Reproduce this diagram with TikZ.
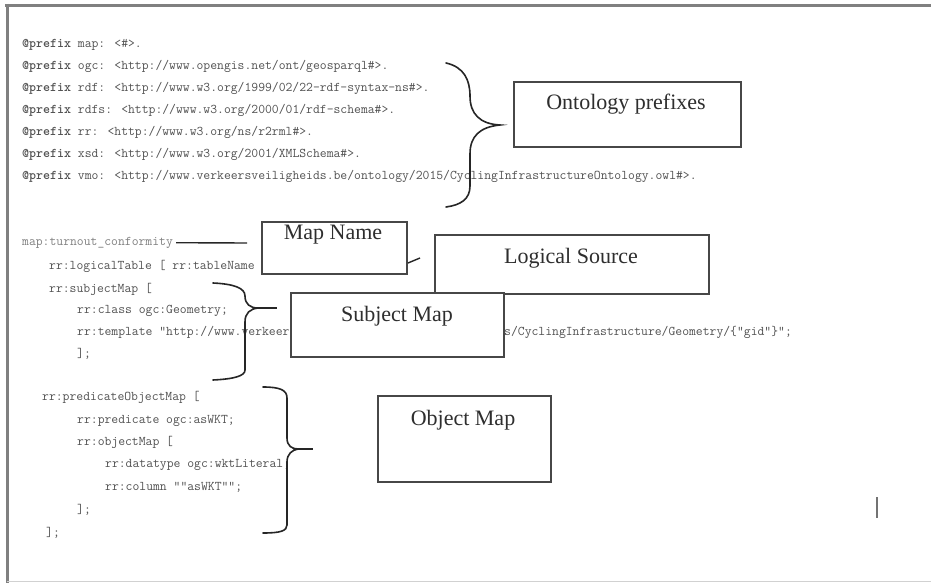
\documentclass[tikz,border=0pt]{standalone}
\usepackage{fontspec}
\setmainfont{Liberation Serif}
\begin{document}
\begin{tikzpicture}[x=1pt,y=-1pt,
  code/.style={anchor=mid west,inner sep=0pt,font=\ttfamily\fontsize{13.3}{14}\selectfont,text=black!68},
  box/.style={draw=black!72,line width=2pt,fill=white,inner sep=0pt,anchor=north west},
  boxlabel/.style={font=\fontsize{22}{24}\selectfont,text=black!82,inner sep=0pt},
  brace/.style={draw=black!85,line width=1.6pt,line cap=round},
  link/.style={draw=black!85,line width=1.4pt}]
\useasboundingbox (0,0) rectangle (931,583);
\fill[white] (0,0) rectangle (931,583);

% page frame
\draw[black!50,line width=3.5pt] (5,5.5) -- (931,5.5);
\draw[black!50,line width=3pt] (7,4) -- (7,583);
\draw[black!18,line width=1pt] (7,581.5) -- (931,581.5);

% prefix declarations
\node[code] (p1) at (22,45)  {{\bfseries @prefix} map: <\#>.};
\node[code] (p2) at (22,67)  {{\bfseries @prefix} ogc: <http://www.opengis.net/ont/geosparql\#>.};
\node[code] (p3) at (22,89)  {{\bfseries @prefix} rdf: <http://www.w3.org/1999/02/22-rdf-syntax-ns\#>.};
\node[code] (p4) at (22,111) {{\bfseries @prefix} rdfs: <http://www.w3.org/2000/01/rdf-schema\#>.};
\node[code] (p5) at (22,133) {{\bfseries @prefix} rr: <http://www.w3.org/ns/r2rml\#>.};
\node[code] (p6) at (22,155) {{\bfseries @prefix} xsd: <http://www.w3.org/2001/XMLSchema\#>.};
\node[code] (p7) at (22,177) {{\bfseries @prefix} vmo: <http://www.verkeersveiligheids.be/ontology/2015/CyclingInfrastructureOntology.owl\#>.};

% triples map
\node[code,text=black!50] (mapid) at (22,243) {map:turnout\_conformity};
\node[code] (lt)  at (49,267) {rr:logicalTable [ rr:tableName};
\node[code] (sm)  at (49,290) {rr:subjectMap [};
\node[code] (cl)  at (77,311) {rr:class ogc:Geometry;};
\node[code] (tpa) at (77,333) {rr:template "http://www.verkeer};
\node[code] (tpb) at (504,333) {s/CyclingInfrastructure/Geometry/\{"gid"\}";};
\node[code] (se)  at (77,355) {];};
\node[code] (pom) at (42,398) {rr:predicateObjectMap [};
\node[code] (pr)  at (77,421) {rr:predicate ogc:asWKT;};
\node[code] (om)  at (77,443) {rr:objectMap [};
\node[code] (dt)  at (105,465) {rr:datatype ogc:wktLiteral;};
\node[code] (co)  at (105,488) {rr:column ""asWKT"";};
\node[code] (oe)  at (77,511) {];};
\node[code] (pe)  at (46,534) {];};

% annotation boxes
\node[box,minimum width=227pt,minimum height=65pt] (ont) at (513,81) {};
\node[boxlabel] (ontT) at (626,104) {Ontology prefixes};
\node[box,minimum width=145pt,minimum height=52pt] (mapname) at (261,221) {};
\node[boxlabel] (mapnameT) at (333,235) {Map Name};
\node[box,minimum width=274pt,minimum height=59pt] (logsrc) at (434,234) {};
\node[boxlabel] (logsrcT) at (571,258) {Logical Source};
\node[box,minimum width=213pt,minimum height=64pt] (subj) at (290,292) {};
\node[boxlabel] (subjT) at (397,316) {Subject Map};
\node[box,minimum width=173pt,minimum height=86pt] (obj) at (377,395) {};
\node[boxlabel] (objT) at (463,420) {Object Map};

% braces
\draw[brace] (446,63) .. controls (464,67) and (470,80) .. (470,96)
  .. controls (470,114) and (480,124) .. (500,125)
  .. controls (480,127) and (470,136) .. (470,154)
  -- (470,186) .. controls (470,199) and (461,205) .. (446,207);
\draw[brace] (213,283) .. controls (234,284) and (245,288) .. (245,296)
  .. controls (245,304) and (250,308) .. (258,308)
  .. controls (250,309) and (245,313) .. (245,322)
  -- (245,370) .. controls (245,376) and (234,379) .. (213,380);
\draw[brace] (263,387) .. controls (280,387) and (287,390) .. (287,398)
  -- (287,438) .. controls (287,446) and (292,449) .. (298,449)
  .. controls (292,450) and (287,454) .. (287,462)
  -- (287,525) .. controls (287,531) and (280,533) .. (263,533);

% connector stubs
\coordinate (subjtip) at (258,308);
\coordinate (subjend) at (277,308);
\coordinate (objtip) at (298,449);
\coordinate (objend) at (313,449);
\coordinate (mapend) at (247,243);
\coordinate (lsstub) at (420,258);
\draw[link] (subjtip) -- (subjend);
\draw[link] (objtip) -- (objend);
\draw[link] ([xshift=3pt]mapid.east) -- (mapend);
\draw[link] ([yshift=-15pt]mapname.east) -- (lsstub);

% cursor mark
\draw[black!55,line width=1.8pt] (877,497) -- (877,518);
\end{tikzpicture}
\end{document}
